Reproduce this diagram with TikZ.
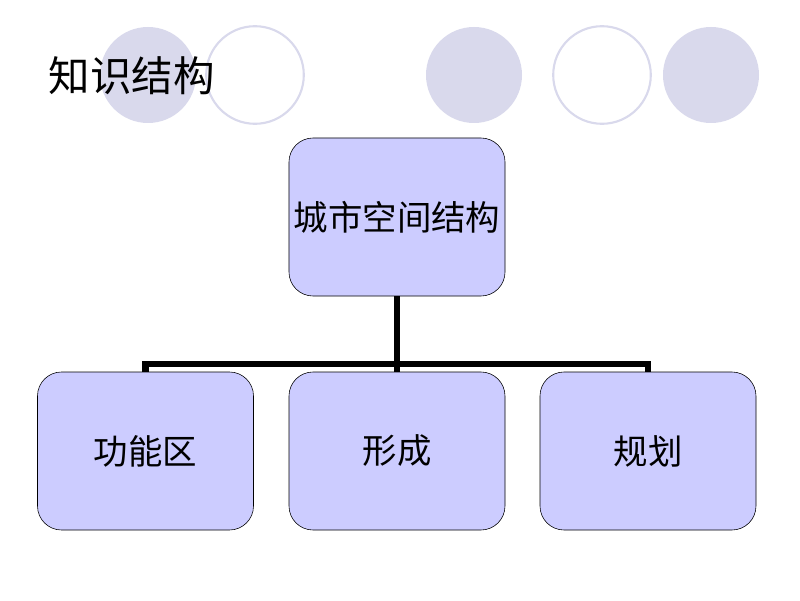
\documentclass[tikz,border=0pt]{standalone}
\usepackage{fontspec}
\setmainfont{Noto Sans CJK SC}
\definecolor{lavender}{HTML}{D9D9EC}
\definecolor{boxblue}{HTML}{CCCCFF}
\tikzset{
  box/.style={draw=black,fill=boxblue,rounded corners=0.6cm,minimum width=5.4cm,minimum height=3.95cm,font=\fontsize{24.5}{29}\selectfont},
  conn/.style={line width=4.5pt},
  dot/.style={fill=lavender},
  ring/.style={draw=lavender,line width=1.5pt}
}
\begin{document}
\begin{tikzpicture}
\useasboundingbox[fill=white] (0,0) rectangle (20,15);
% circles along the top
\fill[dot] (3.7,13.125) circle (1.2);
\draw[ring] (6.375,13.125) circle (1.22);
\fill[dot] (11.85,13.125) circle (1.2);
\draw[ring] (15.05,13.125) circle (1.22);
\fill[dot] (17.775,13.125) circle (1.2);
\node[anchor=west,font=\fontsize{29.5}{35}\selectfont] (title) at (1.1,13.1) {知识结构};
% boxes
\node[box] (top) at (9.925,9.575) {城市空间结构};
\node[box] (a) at (3.6375,3.725) {功能区};
\node[box] (b) at (9.925,3.725) {形成};
\node[box] (c) at (16.2,3.725) {规划};
\coordinate (bar) at (9.925,5.9);
\draw[conn] (top.south) -- (b.north);
\draw[conn] (a.north) |- (bar) -| (c.north);
\end{tikzpicture}
\end{document}
